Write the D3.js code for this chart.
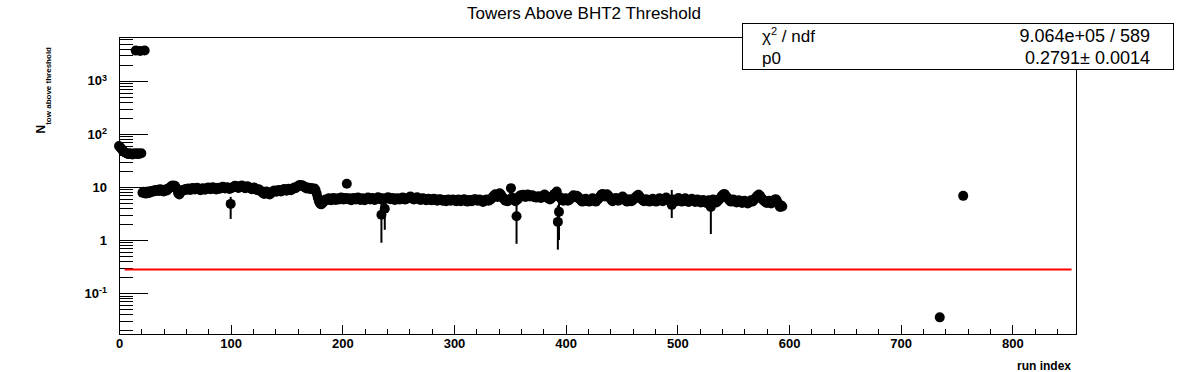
<!DOCTYPE html>
<html>
<head>
<meta charset="utf-8">
<script src="https://cdn.jsdelivr.net/npm/d3@7"></script>
<style>
body { margin: 0; background: #fff; }
text { font-family: "Liberation Sans", Arial, sans-serif; fill: #000; }
.axis path, .axis line { stroke: #000; shape-rendering: crispEdges; }
.axis text { font-weight: bold; font-size: 13px; }
</style>
</head>
<body>
<div id="chart"></div>
<script>
//towers above threshold for each run index 0..594
var counts = [
  59,56,53,50,47,45,44,43,42,42,43,42,41,42,43,3700,42,43,42,3650,
  43,7.8,8.1,3720,7.5,7.9,8.2,7.7,8.0,8.4,8.1,8.6,8.3,8.8,8.5,8.9,8.4,9.1,8.7,8.5,
  8.2,8.8,9.0,8.6,9.3,9.6,9.9,10.4,10.6,10.3,10.5,9.8,8.9,7.6,7.2,7.9,8.4,8.8,8.6,9.0,
  9.2,8.9,9.4,9.1,8.8,9.3,9.6,9.2,9.0,9.4,9.7,9.3,9.0,8.7,9.1,9.5,9.2,8.9,9.3,9.6,
  9.8,9.4,9.1,9.5,9.9,9.6,9.2,9.0,9.4,9.7,9.3,9.5,9.8,10.1,9.7,9.4,9.6,9.9,9.5,9.2,
  4.8,9.6,9.9,10.2,10.5,10.3,9.9,9.6,10.0,10.4,10.6,10.2,9.8,9.5,9.9,10.3,10.0,9.7,9.4,9.1,
  9.5,9.8,9.4,9.0,8.7,9.1,8.8,8.4,8.0,7.7,7.4,7.8,8.2,7.9,7.5,7.2,7.6,8.0,8.3,8.6,
  8.4,8.1,8.5,8.8,8.6,8.2,8.5,8.9,9.2,8.8,8.5,8.9,9.3,9.0,8.7,9.1,9.4,9.8,9.5,9.9,
  10.2,10.6,10.9,10.5,10.8,10.4,10.1,9.7,9.4,9.8,9.5,9.2,9.6,9.3,9.0,9.4,8.8,7.5,6.3,5.4,
  4.9,4.7,4.9,5.2,5.5,5.8,5.6,5.9,6.1,5.8,5.6,5.9,6.2,6.0,5.7,5.9,6.1,5.8,6.0,6.3,
  6.1,5.8,6.0,6.2,11.5,5.9,6.1,5.8,5.6,5.9,6.2,6.0,5.8,6.1,6.3,6.0,5.7,5.9,6.1,5.8,
  5.6,5.9,6.1,6.3,6.0,5.8,6.0,6.2,5.9,5.7,5.9,6.1,6.4,6.2,5.9,3.0,6.1,5.8,3.9,6.0,
  6.2,6.4,6.1,5.9,6.0,6.2,5.9,5.7,5.9,6.1,6.0,5.8,5.9,6.1,6.3,6.0,5.8,5.9,6.1,6.2,
  6.4,6.6,6.3,6.0,5.8,6.0,6.2,6.4,6.1,5.9,5.7,5.9,6.1,6.0,5.8,5.6,5.8,6.0,5.9,5.7,
  5.6,5.8,6.0,5.9,5.7,5.5,5.7,5.9,5.8,5.6,5.5,5.7,5.6,5.4,5.6,5.8,5.7,5.5,5.6,5.8,
  5.7,5.5,5.4,5.6,5.8,5.6,5.4,5.5,5.7,5.9,5.7,5.5,5.3,5.5,5.7,5.6,5.4,5.6,5.8,5.9,
  5.7,5.5,5.6,5.8,5.6,5.4,5.2,5.4,5.6,5.8,5.7,5.5,5.7,5.9,6.2,6.6,7.0,7.3,6.9,6.5,
  7.2,7.6,7.1,6.6,6.2,5.8,5.5,5.7,5.4,5.6,5.9,9.5,6.3,6.0,5.7,5.4,2.8,5.8,6.4,6.8,
  7.0,6.7,7.1,6.8,6.5,6.9,7.2,6.9,6.6,6.8,7.0,6.7,6.4,6.6,6.3,6.5,6.7,6.4,6.2,6.5,
  6.8,7.2,6.9,6.5,6.2,6.0,5.8,6.1,6.4,7.0,7.4,6.8,8.2,2.2,3.4,6.4,6.0,5.7,5.5,5.8,
  6.1,5.8,5.5,5.7,6.0,6.3,6.6,7.0,6.7,6.4,6.8,6.5,6.1,5.8,5.5,5.3,5.5,5.8,6.0,5.7,
  5.5,5.3,5.6,5.9,6.1,5.8,5.5,5.3,5.6,5.9,6.3,6.7,7.1,7.4,7.0,6.6,6.9,7.3,7.0,6.5,
  6.1,5.7,5.4,5.6,5.9,6.2,5.8,5.5,5.7,6.0,6.3,6.6,6.2,5.8,5.5,5.3,5.6,5.9,5.7,5.4,
  5.6,5.9,6.2,6.5,6.8,7.1,6.7,6.3,5.9,5.6,5.4,5.6,5.9,5.7,5.5,5.3,5.5,5.8,6.0,5.7,
  5.5,5.3,5.5,5.8,6.1,5.9,5.6,5.4,5.7,6.0,6.3,6.0,5.7,5.4,5.6,4.6,5.8,5.5,5.3,5.6,
  5.9,6.2,5.9,5.6,5.3,5.5,5.8,6.1,5.8,5.5,5.2,5.4,5.7,6.0,5.7,5.4,5.2,5.5,5.8,5.6,
  5.3,5.1,5.4,5.7,5.5,5.2,5.0,5.3,5.6,5.4,4.2,5.5,5.8,5.6,5.3,5.1,5.4,5.7,6.0,6.4,
  6.8,7.1,7.4,7.0,6.6,6.2,5.8,5.5,5.3,5.5,5.8,5.6,5.3,5.1,5.3,5.6,5.4,5.2,5.0,5.2,
  5.5,5.3,5.1,4.9,5.1,5.4,5.6,5.3,5.5,5.8,6.2,6.6,6.9,7.2,6.8,6.3,5.9,5.6,5.4,5.2,
  5.0,5.3,5.5,5.2,4.9,5.1,5.4,5.7,5.9,5.6,5.0,4.6,4.2,4.5,4.3
];

//two runs far out past the main block
var extraRuns = [735, 756];
var extraCounts = [0.035, 6.8];

//visible error bars: [run index, low, high]
var errBars = [
  [100, 2.5, 6.5], [235, 0.89, 5.5], [238, 1.56, 6.0], [356, 0.85, 6.0],
  [393, 0.66, 4.5], [394, 1.0, 6.0], [495, 2.6, 8.8], [530, 1.3, 6.2]
];

//pol0 fit
var fitValue = 0.2791;
var fitRange = [5, 853];

var xTicks = [0, 100, 200, 300, 400, 500, 600, 700, 800];
var yTicks = [0.1, 1, 10, 100, 1000];
var statsNames = ["ndf", "p0"];
var statsValues = ["9.064e+05 / 589", "0.2791\u00b1 0.0014"];

var margin = {top: 37, right: 120, bottom: 38, left: 119},
  width = 1196 - margin.left - margin.right,
  height = 372 - margin.top - margin.bottom;

var x = d3.scaleLinear().domain([0, 857]).range([0, width]);
var y = d3.scaleLog().domain([0.017, 6680]).range([height, 0]);

var svg = d3.select("#chart").append("svg")
  .attr("width", 1196)
  .attr("height", 372);

var g = svg.append("g")
  .attr("transform", "translate(" + margin.left + "," + margin.top + ")");

//points
var points = counts.map(function(v, i) { return {run: i, n: v}; });
extraRuns.forEach(function(r, i) { points.push({run: r, n: extraCounts[i]}); });

//frame
g.append("rect")
  .attr("x", 0.5).attr("y", 0.5)
  .attr("width", width).attr("height", height)
  .attr("fill", "none")
  .attr("stroke", "#000")
  .attr("shape-rendering", "crispEdges");

//minor log ticks 2..9 in each decade
var yMinor = [];
[0.01, 0.1, 1, 10, 100, 1000].forEach(function(d) {
  for (var k = 2; k <= 9; k++) {
    var v = k * d;
    if (v > y.domain()[0] && v < y.domain()[1]) yMinor.push(v);
  }
});
var xMinor = d3.range(0, 857, 20);

g.append("g")
  .attr("class", "axis")
  .call(d3.axisLeft(y).tickValues(yMinor).tickSize(-14).tickFormat(""))
  .select(".domain").remove();

var yAxis = g.append("g")
  .attr("class", "axis")
  .call(d3.axisLeft(y).tickValues(yTicks).tickSize(-29).tickPadding(12).tickFormat(""));
yAxis.select(".domain").remove();

//tick labels with superscript exponents
yAxis.selectAll(".tick text").each(function(d) {
  var e = Math.round(Math.log10(d));
  var t = d3.select(this);
  if (e === 0) { t.text("1"); return; }
  if (e === 1) { t.text("10"); return; }
  t.append("tspan").text("10");
  t.append("tspan").attr("dy", "-0.55em").attr("font-size", "9px").text(e);
});

g.append("g")
  .attr("class", "axis")
  .attr("transform", "translate(0," + height + ")")
  .call(d3.axisBottom(x).tickValues(xMinor).tickSize(-5).tickFormat(""))
  .select(".domain").remove();

g.append("g")
  .attr("class", "axis")
  .attr("transform", "translate(0," + height + ")")
  .call(d3.axisBottom(x).tickValues(xTicks).tickSize(-9).tickPadding(5).tickFormat(d3.format("d")))
  .select(".domain").remove();

//error bars
g.selectAll(".err")
  .data(errBars)
  .enter().append("line")
    .attr("class", "err")
    .attr("x1", function(d) { return x(d[0]); })
    .attr("x2", function(d) { return x(d[0]); })
    .attr("y1", function(d) { return y(d[1]); })
    .attr("y2", function(d) { return y(d[2]); })
    .attr("stroke", "#000")
    .attr("stroke-width", 2);

g.selectAll(".dot")
  .data(points)
  .enter().append("circle")
    .attr("class", "dot")
    .attr("cx", function(d) { return x(d.run); })
    .attr("cy", function(d) { return y(d.n); })
    .attr("r", 5)
    .attr("fill", "#000");

//fit line
g.append("line")
  .attr("x1", x(fitRange[0])).attr("x2", x(fitRange[1]))
  .attr("y1", y(fitValue)).attr("y2", y(fitValue))
  .attr("stroke", "#ff0000")
  .attr("stroke-width", 2);

//axis titles
svg.append("text")
  .attr("x", 1071).attr("y", 370)
  .attr("text-anchor", "end")
  .attr("font-weight", "bold")
  .attr("font-size", "12px")
  .text("run index");

var ylab = svg.append("text")
  .attr("transform", "translate(45,47) rotate(-90)")
  .attr("text-anchor", "end")
  .attr("font-weight", "bold")
  .attr("font-size", "12px");
ylab.append("tspan").text("N");
ylab.append("tspan").attr("dy", 6).attr("font-size", "8px").text("tow above threshold");

//title
svg.append("text")
  .attr("x", 584).attr("y", 19)
  .attr("text-anchor", "middle")
  .attr("font-size", "17px")
  .text("Towers Above BHT2 Threshold");

//stats box
svg.append("rect")
  .attr("x", 742.5).attr("y", 23.5)
  .attr("width", 431).attr("height", 46)
  .attr("fill", "#fff")
  .attr("stroke", "#000");

var chi = svg.append("text")
  .attr("x", 762).attr("y", 42)
  .attr("font-size", "17px");
chi.append("tspan").text("\u03c7");
chi.append("tspan").attr("dy", -7).attr("font-size", "11px").text("2");
chi.append("tspan").attr("dy", 7).text(" / " + statsNames[0]);

svg.append("text")
  .attr("x", 762).attr("y", 64)
  .attr("font-size", "17px")
  .text(statsNames[1]);

svg.selectAll(".statval")
  .data(statsValues)
  .enter().append("text")
    .attr("class", "statval")
    .attr("x", 1150)
    .attr("y", function(d, i) { return 42 + i * 22; })
    .attr("text-anchor", "end")
    .attr("font-size", "18px")
    .text(function(d) { return d; });
</script>
</body>
</html>
